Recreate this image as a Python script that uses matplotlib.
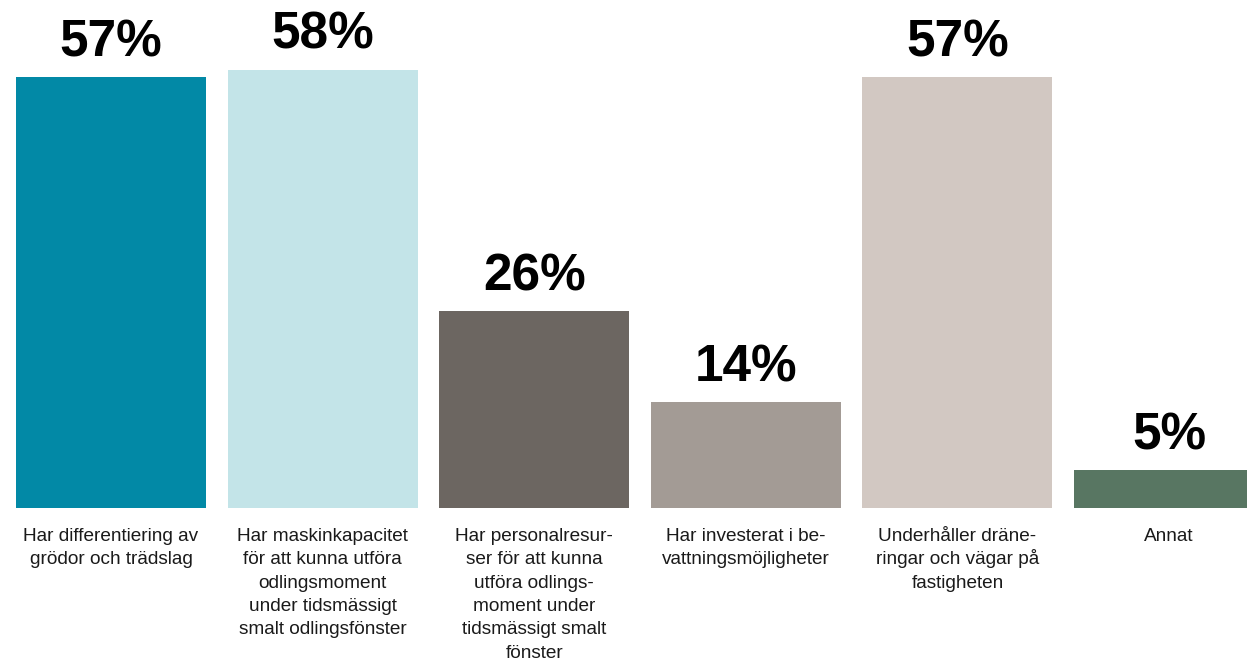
import matplotlib
matplotlib.use("Agg")
import matplotlib.pyplot as plt

categories = [
    "Har differentiering av\ngrödor och trädslag",
    "Har maskinkapacitet\nför att kunna utföra\nodlingsmoment\nunder tidsmässigt\nsmalt odlingsfönster",
    "Har personalresur-\nser för att kunna\nutföra odlings-\nmoment under\ntidsmässigt smalt\nfönster",
    "Har investerat i be-\nvattningsmöjligheter",
    "Underhåller dräne-\nringar och vägar på\nfastigheten",
    "Annat",
]
values = [57, 58, 26, 14, 57, 5]
value_labels = ["57%", "58%", "26%", "14%", "57%", "5%"]
colors = ["#0289A6", "#C3E4E8", "#6C6661", "#A39B95", "#D2C8C2", "#587662"]

W, H = 1247, 662
fig = plt.figure(figsize=(W / 100, H / 100), dpi=100)
ax = fig.add_axes([0, 0, 1, 1])

pitch = 211.6
px_per_unit = 7.56
x = list(range(len(values)))
ax.bar(x, values, width=190 / pitch, color=colors, linewidth=0)

ax.set_xlim(-111 / pitch, (W - 111) / pitch)
ax.set_ylim(-(H - 508) / px_per_unit, 508 / px_per_unit)
ax.axis("off")

for xi, v, lab in zip(x, values, value_labels):
    ax.annotate(lab, (xi, v), xytext=(0, 7), textcoords="offset points",
                ha="center", va="bottom", fontsize=37, fontweight="bold",
                family="Liberation Sans", color="#000000")

line_px = 23.3
for xi, cat in zip(x, categories):
    for i, line in enumerate(cat.split("\n")):
        ax.annotate(line, (xi, 0), xytext=(0, -(33 + i * line_px) * 0.72),
                    textcoords="offset points", ha="center", va="baseline",
                    fontsize=13.7, family="Liberation Sans", color="#1a1a1a")

fig.savefig("out.png", dpi=100)
